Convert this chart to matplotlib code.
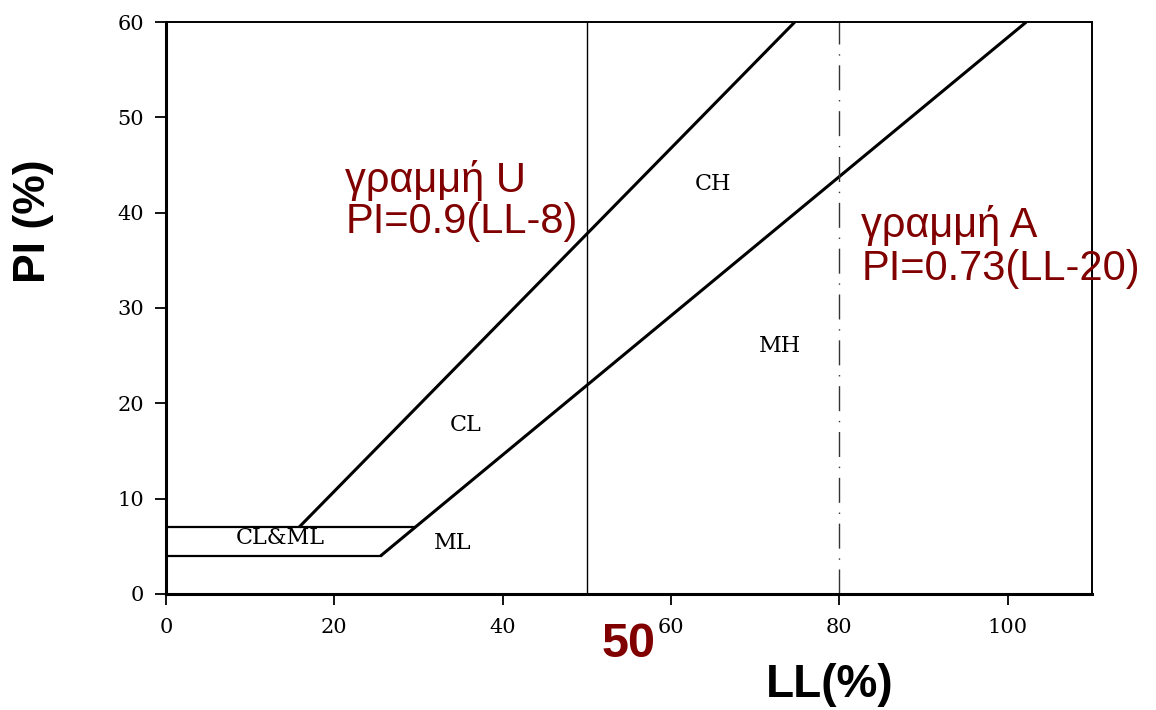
import numpy as np
import matplotlib
matplotlib.use('Agg')
import matplotlib.pyplot as plt

# data: plasticity chart (Casagrande)
u_ll = [15.8, 74.7]          # U-line: PI = 0.9(LL-8)
u_pi = [7.0, 60.0]
a_ll = [25.5, 29.6, 102.2]   # A-line: PI = 0.73(LL-20)
a_pi = [4.0, 7.0, 60.0]
band_top_ll = [0, 29.6]
band_top_pi = [7.0, 7.0]
band_bot_ll = [0, 25.5]
band_bot_pi = [4.0, 4.0]
zone_names = ['CH', 'MH', 'CL', 'ML', 'CL&ML']
zone_ll = [65, 73, 35.6, 34, 13.6]
zone_pi = [43, 26, 17.7, 5.4, 5.9]
x_ticks = [0, 20, 40, 60, 80, 100]
y_ticks = [0, 10, 20, 30, 40, 50, 60]

red = '#800000'
serif = ['DejaVu Serif']
sans = ['Liberation Sans', 'DejaVu Sans']

fig = plt.figure(figsize=(11.56, 7.1), dpi=100)
ax = fig.add_axes([0.1436, 0.1634, 0.801, 0.8056])

ax.plot(u_ll, u_pi, color='black', lw=2.2, solid_capstyle='butt')
ax.plot(a_ll, a_pi, color='black', lw=2.2, solid_capstyle='butt')
ax.plot(band_top_ll, band_top_pi, color='black', lw=1.6)
ax.plot(band_bot_ll, band_bot_pi, color='black', lw=1.6)
ax.axvline(50, color='black', lw=1.0)
ax.axvline(80, color='#333333', lw=1.0, linestyle=(0, (18, 7, 1, 7)))

for name, xx, yy in zip(zone_names, zone_ll, zone_pi):
    ax.text(xx, yy, name, family=serif, fontsize=16, ha='center', va='center')

# red annotations, one text per line
ax.text(21.3, 42.2, 'γραμμή U', color=red, family=sans, fontsize=30,
        ha='left', va='baseline')
ax.text(21.3, 37.9, 'PI=0.9(LL-8)', color=red, family=sans, fontsize=30,
        ha='left', va='baseline')
ax.text(82.6, 37.4, 'γραμμή A', color=red, family=sans, fontsize=30,
        ha='left', va='baseline')
ax.text(82.6, 32.9, 'PI=0.73(LL-20)', color=red, family=sans, fontsize=30,
        ha='left', va='baseline')

ax.set_xlim(0, 110)
ax.set_ylim(0, 60)
ax.set_xticks(x_ticks)
ax.set_yticks(y_ticks)
ax.tick_params(direction='out', length=8, width=1.3, top=False, right=False,
               labelsize=15, pad=8)
ax.tick_params(axis='x', pad=9)
for lab in ax.get_xticklabels() + ax.get_yticklabels():
    lab.set_family(serif)
for s in ['left', 'bottom']:
    ax.spines[s].set_linewidth(2.2)
for s in ['top', 'right']:
    ax.spines[s].set_linewidth(1.4)

ax.text(55, -5.35, '50', color=red, family=sans, fontsize=35,
        fontweight='bold', ha='center', va='center')
fig.text(0.718, 0.035, 'LL(%)', family=sans, fontsize=33, fontweight='bold',
         ha='center', va='center')
fig.text(0.029, 0.689, 'PI (%)', family=sans, fontsize=32, fontweight='bold',
         ha='center', va='center', rotation=90)

fig.savefig('out.png', dpi=100)
